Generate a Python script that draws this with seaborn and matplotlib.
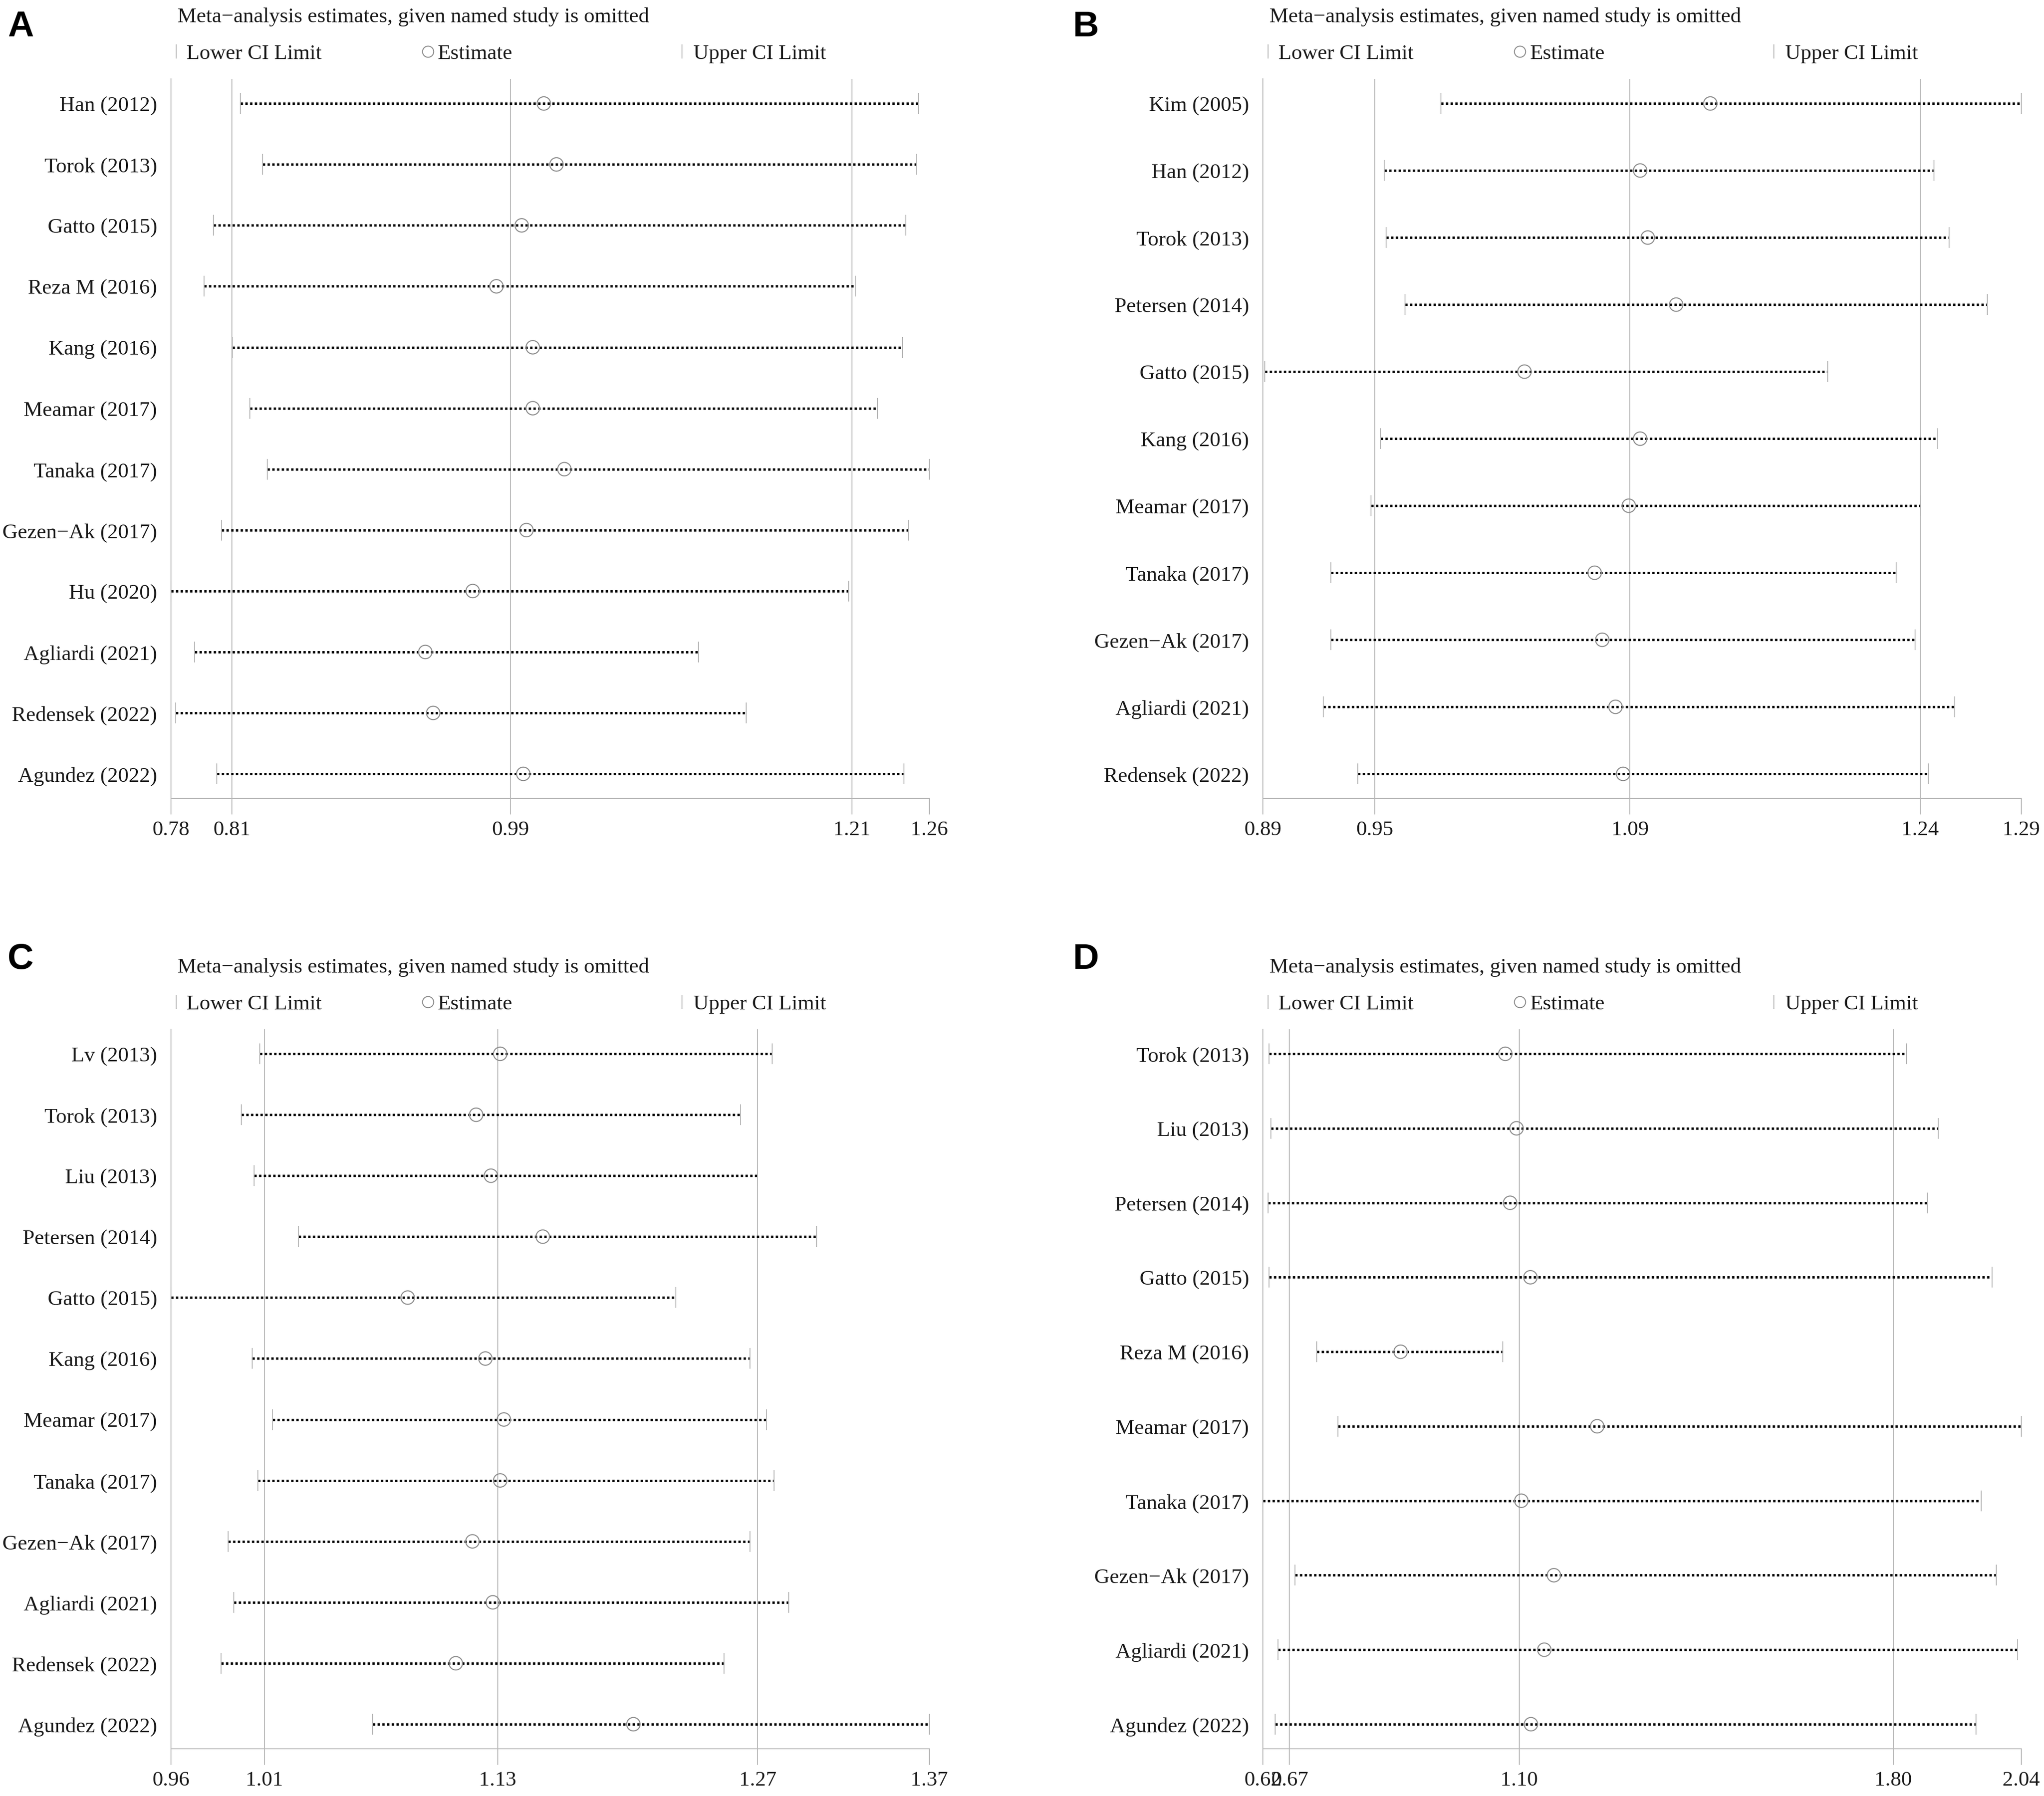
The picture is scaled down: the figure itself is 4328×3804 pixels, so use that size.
import numpy as np
import pandas as pd
import seaborn as sns
import matplotlib.pyplot as plt

# ---- panel A ----
a_studies = ["Han (2012)", "Torok (2013)", "Gatto (2015)", "Reza M (2016)", "Kang (2016)",
             "Meamar (2017)", "Tanaka (2017)", "Gezen\u2212Ak (2017)", "Hu (2020)",
             "Agliardi (2021)", "Redensek (2022)", "Agundez (2022)"]
a_est = [1.016, 1.024, 1.002, 0.986, 1.009, 1.009, 1.029, 1.005, 0.971, 0.941, 0.946, 1.003]
a_lower = [0.824, 0.838, 0.807, 0.801, 0.819, 0.830, 0.841, 0.812, 0.780, 0.795, 0.783, 0.809]
a_upper = [1.253, 1.252, 1.245, 1.213, 1.243, 1.227, 1.260, 1.247, 1.209, 1.114, 1.144, 1.244]
a_ticks = [0.780, 0.8186, 0.995, 1.211, 1.260]
a_ticklabels = ["0.78", "0.81", "0.99", "1.21", "1.26"]

# ---- panel B ----
b_studies = ["Kim (2005)", "Han (2012)", "Torok (2013)", "Petersen (2014)", "Gatto (2015)",
             "Kang (2016)", "Meamar (2017)", "Tanaka (2017)", "Gezen\u2212Ak (2017)",
             "Agliardi (2021)", "Redensek (2022)"]
b_est = [1.126, 1.089, 1.093, 1.108, 1.028, 1.089, 1.083, 1.065, 1.069, 1.076, 1.080]
b_lower = [0.984, 0.954, 0.955, 0.965, 0.891, 0.952, 0.947, 0.926, 0.926, 0.922, 0.940]
b_upper = [1.290, 1.244, 1.252, 1.272, 1.188, 1.246, 1.237, 1.224, 1.234, 1.255, 1.241]
b_ticks = [0.89, 0.949, 1.0836, 1.2367, 1.29]
b_ticklabels = ["0.89", "0.95", "1.09", "1.24", "1.29"]

# ---- panel C ----
c_studies = ["Lv (2013)", "Torok (2013)", "Liu (2013)", "Petersen (2014)", "Gatto (2015)",
             "Kang (2016)", "Meamar (2017)", "Tanaka (2017)", "Gezen\u2212Ak (2017)",
             "Agliardi (2021)", "Redensek (2022)", "Agundez (2022)"]
c_est = [1.138, 1.125, 1.133, 1.161, 1.088, 1.130, 1.140, 1.138, 1.123, 1.134, 1.114, 1.210]
c_lower = [1.008, 0.998, 1.005, 1.029, 0.960, 1.004, 1.015, 1.007, 0.991, 0.994, 0.987, 1.069]
c_upper = [1.285, 1.268, 1.277, 1.309, 1.233, 1.273, 1.282, 1.286, 1.273, 1.294, 1.259, 1.370]
c_ticks = [0.96, 1.0106, 1.1367, 1.2772, 1.37]
c_ticklabels = ["0.96", "1.01", "1.13", "1.27", "1.37"]

# ---- panel D ----
d_studies = ["Torok (2013)", "Liu (2013)", "Petersen (2014)", "Gatto (2015)", "Reza M (2016)",
             "Meamar (2017)", "Tanaka (2017)", "Gezen\u2212Ak (2017)", "Agliardi (2021)",
             "Agundez (2022)"]
d_est = [1.074, 1.095, 1.083, 1.121, 0.878, 1.246, 1.104, 1.165, 1.147, 1.122]
d_lower = [0.632, 0.635, 0.630, 0.632, 0.721, 0.761, 0.620, 0.680, 0.648, 0.643]
d_upper = [1.825, 1.884, 1.864, 1.985, 1.069, 2.040, 1.965, 1.993, 2.033, 1.955]
d_ticks = [0.62, 0.67, 1.10, 1.80, 2.04]
d_ticklabels = ["0.62", "0.67", "1.10", "1.80", "2.04"]

TITLE = "Meta\u2212analysis estimates, given named study is omitted"

sns.set_theme(style="white")
plt.rcParams['font.family'] = ['Liberation Serif', 'DejaVu Serif']

GRAY = '#b8b8b8'
CIRC = '#8c8c8c'
TXT = '#1a1a1a'
FS = 32.5


def draw_panel(ax, studies, est, lower, upper, ticks, ticklabels):
    n = len(studies)
    df = pd.DataFrame({'study': studies, 'pos': np.arange(n),
                       'est': est, 'lower': lower, 'upper': upper})

    # grid lines at the inner ticks
    for t in ticks[1:-1]:
        ax.axvline(t, color=GRAY, lw=1.4, zorder=0)

    ax.hlines(df['pos'], df['lower'], df['upper'], colors='black',
              linestyles=[(0, (1, 1.0))], lw=3.6, zorder=2)
    ax.plot(df['lower'], df['pos'], ls='none', marker='|', ms=31, mew=1.4,
            color=GRAY, zorder=2, clip_on=False)
    ax.plot(df['upper'], df['pos'], ls='none', marker='|', ms=31, mew=1.4,
            color=GRAY, zorder=2, clip_on=False)
    sns.scatterplot(data=df, x='est', y='pos', marker='o', s=420,
                    facecolor='none', edgecolor=CIRC, linewidth=1.6,
                    legend=False, zorder=3, ax=ax)

    pad = (n - 1) * 52 / 1420
    ax.set_ylim(n - 1 + pad, -pad)
    ax.set_xlim(ticks[0], ticks[-1])
    ax.set_yticks(df['pos'], labels=studies)
    ax.set_xticks(ticks, labels=ticklabels)
    ax.set_xlabel('')
    ax.set_ylabel('')

    sns.despine(ax=ax)
    for s in ['left', 'bottom']:
        ax.spines[s].set_color(GRAY)
        ax.spines[s].set_linewidth(1.4)

    ax.tick_params(axis='x', bottom=True, length=24.5, width=1.4, color=GRAY,
                   pad=8.6, labelsize=FS, labelcolor=TXT)
    ax.tick_params(axis='y', left=False, length=0, pad=21,
                   labelsize=FS, labelcolor=TXT)

    # title and key above the plot
    ax.text(0.0087, 1.0795, TITLE, transform=ax.transAxes, ha='left',
            va='baseline', fontsize=FS, color=TXT)
    ax.plot([0.0069], [1.038], marker='|', ms=22, mew=1.4, color=GRAY,
            transform=ax.transAxes, clip_on=False)
    ax.text(0.0205, 1.0282, "Lower CI Limit", transform=ax.transAxes,
            ha='left', va='baseline', fontsize=FS, color=TXT)
    ax.plot([0.339], [1.038], marker='o', ms=17, mfc='none', mec=CIRC, mew=1.5,
            transform=ax.transAxes, clip_on=False)
    ax.text(0.352, 1.0282, "Estimate", transform=ax.transAxes,
            ha='left', va='baseline', fontsize=FS, color=TXT)
    ax.plot([0.674], [1.038], marker='|', ms=22, mew=1.4, color=GRAY,
            transform=ax.transAxes, clip_on=False)
    ax.text(0.689, 1.0282, "Upper CI Limit", transform=ax.transAxes,
            ha='left', va='baseline', fontsize=FS, color=TXT)


fig = plt.figure(figsize=(43.28, 38.05), dpi=100)

W, H = 0.3711, 0.4005
ax_a = fig.add_axes([0.0836, 0.5553, W, H])
ax_b = fig.add_axes([0.6178, 0.5553, W, H])
ax_c = fig.add_axes([0.0836, 0.0263, W, H])
ax_d = fig.add_axes([0.6178, 0.0263, W, H])

draw_panel(ax_a, a_studies, a_est, a_lower, a_upper, a_ticks, a_ticklabels)
draw_panel(ax_b, b_studies, b_est, b_lower, b_upper, b_ticks, b_ticklabels)
draw_panel(ax_c, c_studies, c_est, c_lower, c_upper, c_ticks, c_ticklabels)
draw_panel(ax_d, d_studies, d_est, d_lower, d_upper, d_ticks, d_ticklabels)

letter_kw = dict(fontfamily='Liberation Sans', fontweight='bold', fontsize=55,
                 va='baseline', ha='left', color='black')
fig.text(16 / 4328, 1 - 77 / 3805, "A", **letter_kw)
fig.text(2272 / 4328, 1 - 77 / 3805, "B", **letter_kw)
fig.text(16 / 4328, 1 - 2052 / 3805, "C", **letter_kw)
fig.text(2272 / 4328, 1 - 2052 / 3805, "D", **letter_kw)

fig.savefig('out.png', dpi=100)
